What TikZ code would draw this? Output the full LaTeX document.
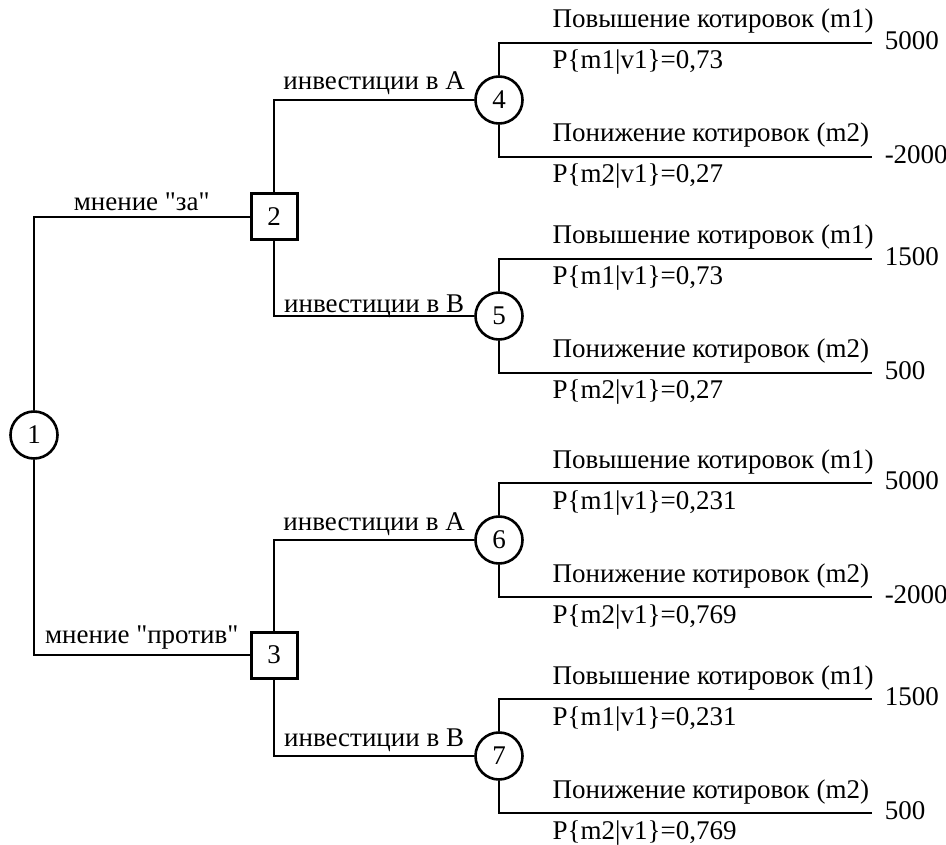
\documentclass[tikz,border=0pt]{standalone}
\usepackage{fontspec}
\setmainfont{Liberation Serif}
\tikzset{
  chance/.style={circle, draw, line width=2.6pt, minimum size=47pt, inner sep=0pt, fill=white},
  decision/.style={rectangle, draw, line width=3pt, minimum size=46pt, inner sep=0pt, fill=white},
  uplbl/.style={anchor=base west, inner sep=0pt, yshift=15pt},
  downlbl/.style={anchor=base west, inner sep=0pt, yshift=-26pt},
  payoff/.style={anchor=west, inner sep=0pt, xshift=12pt, yshift=2pt}
}
\begin{document}
\begin{tikzpicture}[x=1pt, y=-1pt, line width=1.5pt, font=\fontsize{27}{31}\selectfont]
  \useasboundingbox (0,0) rectangle (946,845);
  \node[chance] (n1) at (34,435) {1};
  \node[decision] (n2) at (274,217) {2};
  \node[decision] (n3) at (274,655) {3};
  \draw (n1) |- node[pos=0.75, anchor=base, inner sep=0pt, yshift=6pt] {мнение \textquotedbl за\textquotedbl} (n2);
  \draw (n1) |- node[pos=0.75, anchor=base, inner sep=0pt, yshift=12pt] {мнение \textquotedbl против\textquotedbl} (n3);
  % chance nodes and their outcomes
  \foreach \n/\from/\y/\inv/\sh/\pa/\pb/\va/\vb in {
      4/n2/100/A/10/0{,}73/0{,}27/5000/-2000,
      5/n2/316/B/3/0{,}73/0{,}27/1500/500,
      6/n3/540/A/10/0{,}231/0{,}769/5000/-2000,
      7/n3/756/B/10/0{,}231/0{,}769/1500/500} {
    \node[chance] (n\n) at (499,\y) {\n};
    \coordinate (e\n a) at (872,\y-57);
    \coordinate (e\n b) at (872,\y+57);
    \draw (\from) |- node[pos=0.75, anchor=base, inner sep=0pt, yshift=\sh pt] {инвестиции в \inv} (n\n);
    \draw (n\n) |- node[pos=0.571, uplbl] {Повышение котировок (m1)}
                   node[pos=0.571, downlbl] {P\{m1|v1\}=\pa} (e\n a);
    \draw (n\n) |- node[pos=0.571, uplbl] {Понижение котировок (m2)}
                   node[pos=0.571, downlbl] {P\{m2|v1\}=\pb} (e\n b);
    \node[payoff] (v\n a) at (e\n a) {\va};
    \node[payoff] (v\n b) at (e\n b) {\vb};
  }
\end{tikzpicture}
\end{document}
